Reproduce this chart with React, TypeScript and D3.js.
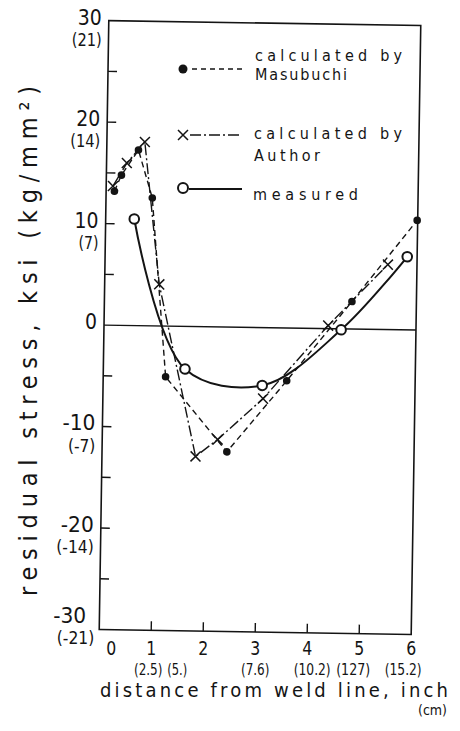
import * as d3 from "d3";

const W = 460;
const H = 731;

// axis ticks (ksi / inch) with the metric values shown in brackets
const yTicks = [30, 20, 10, 0, -10, -20, -30];
const yTickText = ["30", "20", "10", "0", "-10", "-20", "-30"];
const yTickMetric = ["(21)", "(14)", "(7)", "", "(-7)", "(-14)", "(-21)"];
const yMinorTicks = [25, 20, 15, 10, 5, -5, -10, -15, -20, -25];
const xTicks = [0, 1, 2, 3, 4, 5, 6];
const xTickMetric = ["", "(2.5)", "(5.)", "(7.6)", "(10.2)", "(127)", "(15.2)"];

// calculated by Masubuchi (filled dots, dashed)
const masubuchiX = [0.16, 0.29, 0.61, 0.89, 1.2, 2.4, 3.53, 4.76, 5.99];
const masubuchiY = [13.2, 14.8, 17.3, 12.6, -5.0, -12.3, -5.2, 2.7, 10.8];

// calculated by Author (crosses, dash-dot)
const authorX = [0.13, 0.39, 0.73, 1.05, 1.8, 2.22, 3.08, 4.31, 5.44];
const authorY = [13.7, 16.0, 18.1, 4.1, -12.8, -11.1, -7.0, 0.3, 6.4];

// measured (open circles, solid curve)
const measuredX = [0.55, 1.57, 3.06, 4.56, 5.81];
const measuredY = [10.5, -4.2, -5.7, -0.1, 7.2];

const INK = "#141414";
const FONT = "'DejaVu Sans Condensed', 'DejaVu Sans', sans-serif";

// the scanned plot is turned a little clockwise
const TILT = 0.9;
const CX = 258;
const CY = 327;
const rot = (px: number, py: number): [number, number] => {
  const a = (TILT * Math.PI) / 180;
  const dx = px - CX;
  const dy = py - CY;
  return [CX + dx * Math.cos(a) - dy * Math.sin(a), CY + dx * Math.sin(a) + dy * Math.cos(a)];
};

// the scan uses tall narrow stencil digits; squeeze the glyphs to that width
const narrow = (s: string, digit: number) =>
  Array.from(s).reduce((w, c) => {
    if (c === "(" || c === ")") return w + digit * 0.5;
    if (c === ".") return w + digit * 0.35;
    if (c === "-") return w + digit * 0.75;
    if (c === " ") return w + digit * 0.5;
    return w + digit;
  }, 0);

const metricShift = [0, -3, -26, 0, 5, -6, -8];

export default function App() {
  const x = d3.scaleLinear().domain([0, 6]).range([104, 416]);
  const y = d3.scaleLinear().domain([-30, 30]).range([632, 23]);

  const masubuchi = masubuchiX.map((v, i) => [v, masubuchiY[i]] as [number, number]);
  const author = authorX.map((v, i) => [v, authorY[i]] as [number, number]);
  const measured = measuredX.map((v, i) => [v, measuredY[i]] as [number, number]);

  const straight = d3
    .line<[number, number]>()
    .x((d) => x(d[0]))
    .y((d) => y(d[1]));
  const smooth = d3
    .line<[number, number]>()
    .x((d) => x(d[0]))
    .y((d) => y(d[1]))
    .curve(d3.curveCatmullRom.alpha(0.5));

  const cross = "M-5,-5L5,5M-5,5L5,-5";

  return (
    <svg
      width={W}
      height={H}
      style={{ position: "absolute", left: 0, top: 0, background: "#fff" }}
    >
      <rect width={W} height={H} fill="#fff" />
      <g transform={`rotate(${TILT} ${CX} ${CY})`} fill={INK}>
        {/* frame */}
        <rect
          x={x(0)}
          y={y(30)}
          width={x(6) - x(0)}
          height={y(-30) - y(30)}
          fill="none"
          stroke={INK}
          strokeWidth={1.6}
        />
        <line x1={x(0)} x2={x(6)} y1={y(0)} y2={y(0)} stroke={INK} strokeWidth={1.4} />

        {/* ticks, pointing inwards */}
        {yMinorTicks.map((v) => (
          <line key={"yt" + v} x1={x(0)} x2={x(0) + 9} y1={y(v)} y2={y(v)} stroke={INK} strokeWidth={1.4} />
        ))}
        {xTicks.slice(1, 6).map((v) => (
          <line key={"xt" + v} x1={x(v)} x2={x(v)} y1={y(-30)} y2={y(-30) - 9} stroke={INK} strokeWidth={1.4} />
        ))}

        {/* series */}
        <path d={straight(masubuchi) ?? ""} fill="none" stroke={INK} strokeWidth={1.4} strokeDasharray="6,4" />
        <path d={straight(author) ?? ""} fill="none" stroke={INK} strokeWidth={1.4} strokeDasharray="11,3,2,3" />
        <path d={smooth(measured) ?? ""} fill="none" stroke={INK} strokeWidth={2} />

        {masubuchi.map((d, i) => (
          <circle key={"m" + i} cx={x(d[0])} cy={y(d[1])} r={3.8} fill={INK} />
        ))}
        {author.map((d, i) => (
          <path
            key={"a" + i}
            d={cross}
            transform={`translate(${x(d[0])},${y(d[1])})`}
            stroke={INK}
            strokeWidth={1.5}
            fill="none"
          />
        ))}
        {measured.map((d, i) => (
          <circle
            key={"o" + i}
            cx={x(d[0])}
            cy={y(d[1])}
            r={4.8}
            fill="#fff"
            stroke={INK}
            strokeWidth={2}
          />
        ))}
      </g>

      {/* texts stay upright, placed next to the turned axes */}
      <g fill={INK} fontFamily={FONT}>
        {yTicks.map((v, i) => {
          const last = i === yTicks.length - 1;
          const [px, py] = rot(x(0), y(v));
          return (
            <g key={"yl" + v}>
              <text
                x={px - (last ? 13 : 7)}
                y={py + (last ? -14 : -4)}
                dy="0.36em"
                textAnchor="end"
                fontSize={22}
                textLength={narrow(yTickText[i], 12)}
                lengthAdjust="spacingAndGlyphs"
              >
                {yTickText[i]}
              </text>
              {yTickMetric[i] && (
                <text
                  x={px - (last ? 5 : 7)}
                  y={py + (last ? 8 : 19)}
                  dy="0.36em"
                  textAnchor="end"
                  fontSize={17}
                  textLength={narrow(yTickMetric[i], 10)}
                  lengthAdjust="spacingAndGlyphs"
                >
                  {yTickMetric[i]}
                </text>
              )}
            </g>
          );
        })}

        {xTicks.map((v, i) => {
          const [px] = rot(x(v), y(-30));
          return (
            <text
              key={"xl" + v}
              x={i === 0 ? px + 12 : px}
              y={655}
              textAnchor="middle"
              fontSize={20}
              textLength={10}
              lengthAdjust="spacingAndGlyphs"
            >
              {v}
            </text>
          );
        })}
        {xTickMetric.map((t, i) => {
          if (!t) return null;
          const [px] = rot(x(xTicks[i]), y(-30));
          return (
            <text
              key={"xm" + i}
              x={px + metricShift[i]}
              y={674.5}
              textAnchor="middle"
              fontSize={16}
              textLength={narrow(t, 8.5)}
              lengthAdjust="spacingAndGlyphs"
            >
              {t}
            </text>
          );
        })}

        <text x={100} y={697} fontSize={20} textLength={348} lengthAdjust="spacing">
          distance from weld line, inch
        </text>
        <text x={418} y={715} fontSize={14}>
          (cm)
        </text>
        <text
          transform="translate(37,341) rotate(-90)"
          textAnchor="middle"
          fontSize={25}
          textLength={510}
          lengthAdjust="spacing"
        >
          residual stress, ksi (kg/mm²)
        </text>

        {/* legend */}
        <g fontSize={16}>
          <line x1={192} x2={242} y1={69} y2={69} stroke={INK} strokeWidth={1.4} strokeDasharray="5,4" />
          <circle cx={183} cy={69} r={4.5} fill={INK} />
          <text x={255} y={60.5} textLength={147} lengthAdjust="spacing">calculated by</text>
          <text x={255} y={79.5} textLength={92} lengthAdjust="spacing">Masubuchi</text>

          <line x1={190} x2={242} y1={135} y2={135} stroke={INK} strokeWidth={1.4} strokeDasharray="11,3,2,3" />
          <path d={cross} transform="translate(183,135)" stroke={INK} strokeWidth={1.5} fill="none" />
          <text x={254} y={139} textLength={148} lengthAdjust="spacing">calculated by</text>
          <text x={254} y={161} textLength={66} lengthAdjust="spacing">Author</text>

          <line x1={189} x2={242} y1={189} y2={189} stroke={INK} strokeWidth={2} />
          <circle cx={183} cy={188} r={5} fill="#fff" stroke={INK} strokeWidth={2} />
          <text x={253} y={200} textLength={105} lengthAdjust="spacing">measured</text>
        </g>
      </g>
    </svg>
  );
}
